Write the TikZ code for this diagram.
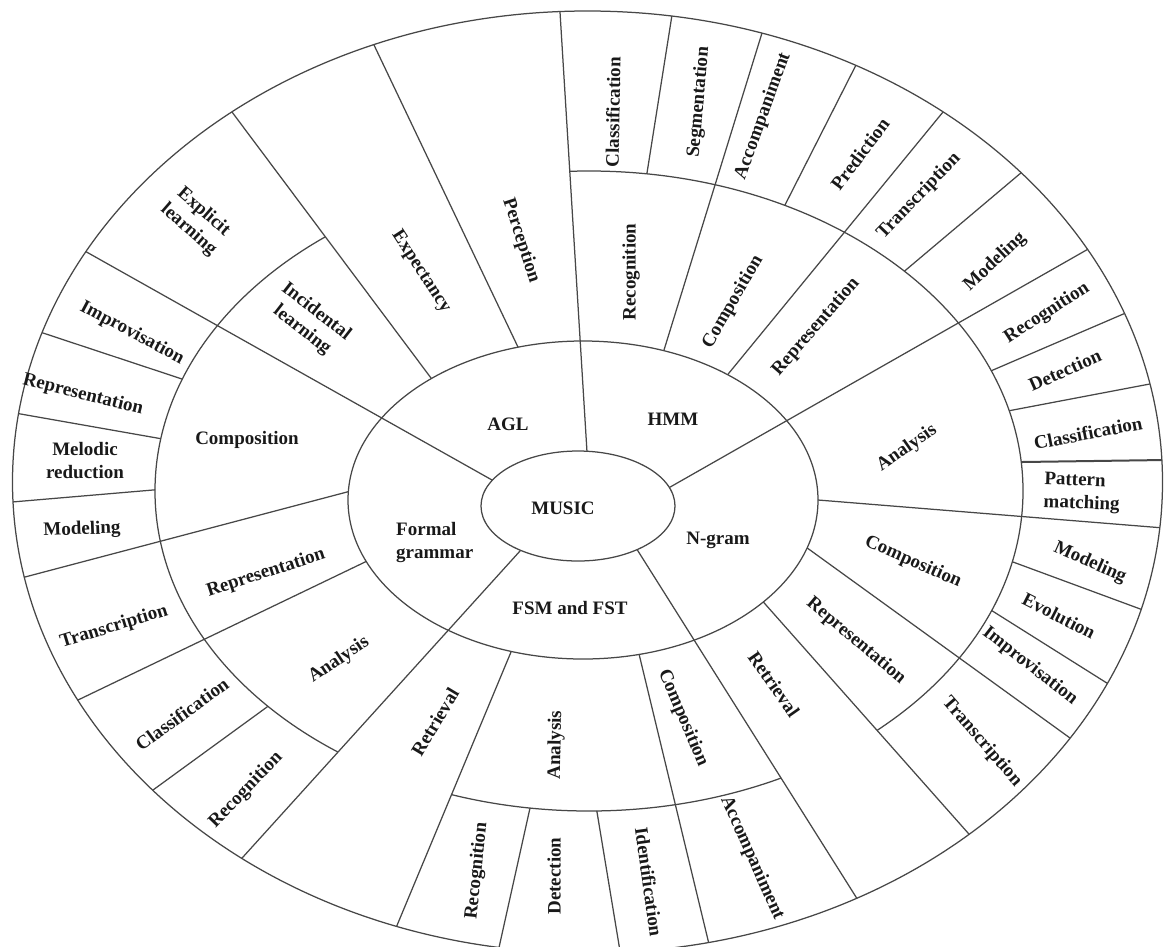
\documentclass[tikz,border=0pt]{standalone}
\usepackage{fontspec}
\setmainfont{Liberation Serif}
\usetikzlibrary{calc}
\newcommand\segA[2]{\draw[ln] ($(#1)!-0.12!(#2)$) -- ($(#1)!1.12!(#2)$);}
\newcommand\segB[2]{\draw[ln] ($(#1)!-0.2!(#2)$) -- ($(#1)!1.2!(#2)$);}
\newcommand\segC[3][]{\draw[ln,#1] ($(#2)!-0.3!(#3)$) -- ($(#2)!1.3!(#3)$);}
\begin{document}
\begin{tikzpicture}[x=1pt,y=-1pt,
  ln/.style={draw=black!72, line width=1.25pt},
  lab/.style={font=\bfseries\fontsize{19}{23}\selectfont, text=black!90, inner sep=0pt, align=center}]
\useasboundingbox (0,0) rectangle (1164,946);
\clip (0,0) rectangle (1164,946);
% ring-2 outer boundary
\draw[ln] (589,491) ellipse [x radius=434, y radius=320];
% sectors where that boundary is absent
\fill[white] (431,378) -- (132,-21) -- (557,-32) -- (580,341) -- cycle;
\fill[white] (766,605) -- (1069,947) -- (921,1001) -- (694,640) -- cycle;
\fill[white] (448,630) -- (160,949) -- (341,1058) -- (511,652) -- cycle;
% main spokes (inner ellipse to outer ellipse)
\begin{scope}[even odd rule]
\clip (587.5,482) ellipse [x radius=575, y radius=471] (578,506) ellipse [x radius=97, y radius=55];
\segA{492,480}{83,250}
\segA{587,452}{560,12}
\segA{672,486}{1090,248}
\segA{520,551}{243,857}
\segA{638,551}{856,897}
\end{scope}
% spokes from ring-1 boundary
\begin{scope}[even odd rule]
\clip (587.5,482) ellipse [x radius=575, y radius=471] (583,500) ellipse [x radius=235, y radius=159];
\segB{431,378}{232,112}
\segB{517,345}{374,45}
\segB{664,350}{762,33}
\segB{729,373}{943,112}
\segB{818,500}{1164,528}
\segB{810,550}{1070,738}
\segB{766,605}{968,833}
\segB{511,652}{398,923}
\segB{640,658}{708,940}
\segB{347,492}{25,577}
\segB{363,563}{78,700}
\end{scope}
% spokes from ring-2 boundary
\begin{scope}[even odd rule]
\clip (587.5,482) ellipse [x radius=575, y radius=471] (589,491) ellipse [x radius=434, y radius=320];
\segC{647,173}{672,15}
\segC{786,203}{856,65}
\segC{907,269}{1022,172}
\segC{993,370}{1128,312}
\segC{1013,410}{1155,383}
\segC[line width=2pt]{1022,462}{1164,460}
\segC{1013,562}{1143,610}
\segC{994,612}{1110,685}
\segC{530,808}{500,943}
\segC{597,812}{619,945}
\segC{182,379}{40,332}
\segC{157,438}{15,413}
\segC{153,490}{12,502}
\segC{267,707}{153,790}
\end{scope}
% ellipses
\draw[ln] (587.5,482) ellipse [x radius=575, y radius=471];
\draw[ln] (583,500) ellipse [x radius=235, y radius=159];
\draw[ln] (578,506) ellipse [x radius=97, y radius=55];
% centre and first ring
\node[lab] (music) at (563,508) {MUSIC};
\node[lab] (agl) at (508,424) {AGL};
\node[lab] (hmm) at (673,419) {HMM};
\node[lab] (ngram) at (718,540) {N-gram};
\node[lab] (fsm) at (570,608) {FSM and FST};
\node[lab,align=left,anchor=west] (formal) at (396,542) {Formal\\grammar};
% AGL
\node[lab,rotate=-72] (agl1) at (521,241) {Perception};
\node[lab,rotate=-57] (agl2) at (421,272) {Expectancy};
\node[lab,rotate=-38] (agl3) at (309,321) {Incidental\\learning};
\node[lab,rotate=-41] (agl4) at (196,221) {Explicit\\learning};
% HMM
\node[lab,rotate=90] (hmm1) at (631,272) {Recognition};
\node[lab,rotate=60] (hmm2) at (733,302) {Composition};
\node[lab,rotate=49] (hmm3) at (816,327) {Representation};
\node[lab,rotate=89] (hmm4) at (613,112) {Classification};
\node[lab,rotate=85] (hmm5) at (699,102) {Segmentation};
\node[lab,rotate=70] (hmm6) at (763,116) {Accompaniment};
\node[lab,rotate=53] (hmm7) at (860,154) {Prediction};
\node[lab,rotate=46] (hmm8) at (919,196) {Transcription};
\node[lab,rotate=43] (hmm9) at (995,262) {Modeling};
% N-gram
\node[lab,rotate=35] (ng1) at (907,448) {Analysis};
\node[lab,rotate=-24] (ng2) at (913,562) {Composition};
\node[lab,rotate=-40] (ng3) at (856,641) {Representation};
\node[lab,rotate=-55] (ng4) at (774,684) {Retrieval};
\node[lab,rotate=33] (ng5) at (1047,313) {Recognition};
\node[lab,rotate=24] (ng6) at (1065,370) {Detection};
\node[lab,rotate=11] (ng7) at (1088,433) {Classification};
\node[lab,rotate=-2,align=left] (ng8) at (1082,493) {Pattern\\matching};
\node[lab,rotate=-24] (ng9) at (1090,563) {Modeling};
\node[lab,rotate=-27] (ng10) at (1059,616) {Evolution};
\node[lab,rotate=-38] (ng11) at (1030,666) {Improvisation};
\node[lab,rotate=-49] (ng12) at (982,742) {Transcription};
% FSM and FST
\node[lab,rotate=59] (fs1) at (435,722) {Retrieval};
\node[lab,rotate=89] (fs2) at (556,745) {Analysis};
\node[lab,rotate=-67] (fs3) at (683,718) {Composition};
\node[lab,rotate=84] (fs4) at (477,871) {Recognition};
\node[lab,rotate=90] (fs5) at (554,876) {Detection};
\node[lab,rotate=-82] (fs6) at (649,882) {Identification};
\node[lab,rotate=-66] (fs7) at (752,858) {Accompaniment};
% Formal grammar
\node[lab] (fg1) at (247,440) {Composition};
\node[lab,rotate=18] (fg2) at (266,573) {Representation};
\node[lab,rotate=34] (fg3) at (339,660) {Analysis};
\node[lab,rotate=-28] (fg4) at (132,333) {Improvisation};
\node[lab,rotate=-14] (fg5) at (83,395) {Representation};
\node[lab] (fg6) at (85,461) {Melodic\\reduction};
\node[lab,rotate=2] (fg7) at (82,530) {Modeling};
\node[lab,rotate=17] (fg8) at (114,627) {Transcription};
\node[lab,rotate=36] (fg9) at (182,714) {Classification};
\node[lab,rotate=46] (fg10) at (246,790) {Recognition};
\end{tikzpicture}
\end{document}
